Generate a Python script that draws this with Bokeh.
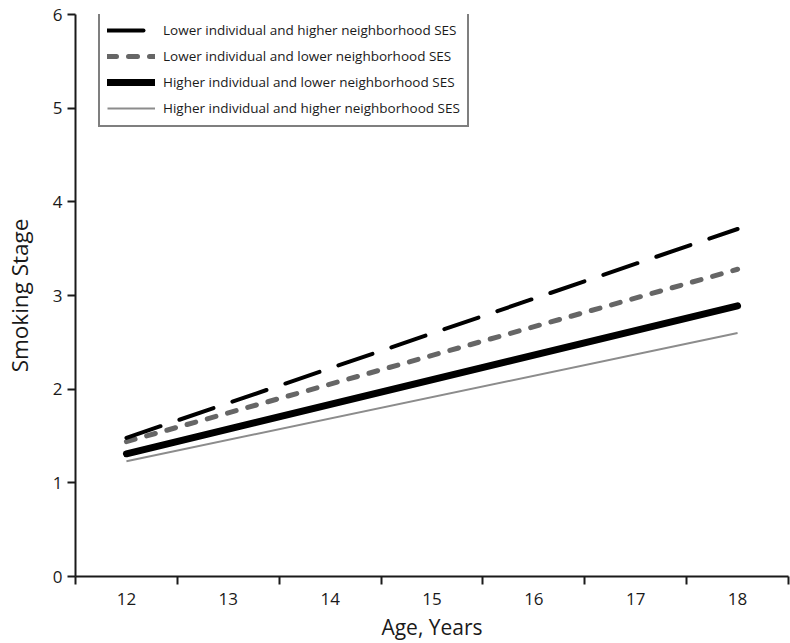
from bokeh.plotting import figure
from bokeh.models import Range1d, FixedTicker, Legend, LegendItem
from bokeh.embed import file_html
from bokeh.resources import INLINE

# Data
ages = [12, 18]
x_ticks = [12, 13, 14, 15, 16, 17, 18]
x_bounds = [11.5, 12.5, 13.5, 14.5, 15.5, 16.5, 17.5, 18.5]
y_ticks = [0, 1, 2, 3, 4, 5, 6]

lower_ind_higher_nbhd = [1.48, 3.71]
lower_ind_lower_nbhd = [1.44, 3.28]
higher_ind_lower_nbhd = [1.31, 2.89]
higher_ind_higher_nbhd = [1.23, 2.60]

labels = [
    "Lower individual and higher neighborhood SES",
    "Lower individual and lower neighborhood SES",
    "Higher individual and lower neighborhood SES",
    "Higher individual and higher neighborhood SES",
]

FONT = "Open Sans"
TXT = "#1a1a1a"

p = figure(width=790, height=643, output_backend="svg", toolbar_location=None,
           x_range=Range1d(11.5, 18.5), y_range=Range1d(0, 6),
           min_border_left=75, min_border_right=2, min_border_top=14, min_border_bottom=67)
p.outline_line_color = None
p.grid.grid_line_color = None
p.background_fill_color = "white"
p.border_fill_color = "white"

# x axis
xa = p.xaxis[0]
xa.ticker = FixedTicker(ticks=x_ticks, minor_ticks=x_bounds)
xa.major_tick_in = 0
xa.major_tick_out = 0
xa.minor_tick_in = 0
xa.minor_tick_out = 8
xa.minor_tick_line_width = 2
xa.minor_tick_line_color = TXT
xa.axis_line_width = 2
xa.axis_line_color = TXT
xa.major_label_text_font = FONT
xa.major_label_text_font_size = "17px"
xa.major_label_text_color = TXT
xa.major_label_standoff = 8
xa.axis_label = "Age, Years"
xa.axis_label_text_font = FONT
xa.axis_label_text_font_size = "21px"
xa.axis_label_text_font_style = "normal"
xa.axis_label_text_color = TXT
xa.axis_label_standoff = 5

# y axis
ya = p.yaxis[0]
ya.ticker = FixedTicker(ticks=y_ticks, minor_ticks=[])
ya.major_tick_in = 0
ya.major_tick_out = 8
ya.major_tick_line_width = 2
ya.major_tick_line_color = TXT
ya.axis_line_width = 2
ya.axis_line_color = TXT
ya.major_label_text_font = FONT
ya.major_label_text_font_size = "17px"
ya.major_label_text_color = TXT
ya.major_label_standoff = 5
ya.axis_label = "Smoking Stage"
ya.axis_label_text_font = FONT
ya.axis_label_text_font_size = "22.5px"
ya.axis_label_text_font_style = "normal"
ya.axis_label_text_color = TXT
ya.axis_label_standoff = 15

r4 = p.line(ages, higher_ind_higher_nbhd, line_color="#8c8c8c", line_width=2)
r3 = p.line(ages, higher_ind_lower_nbhd, line_color="#000000", line_width=7, line_cap="round")
r2 = p.line(ages, lower_ind_lower_nbhd, line_color="#666666", line_width=5, line_cap="round",
            line_dash="9 12")
r1 = p.line(ages, lower_ind_higher_nbhd, line_color="#000000", line_width=4, line_cap="round",
            line_dash="36 20")

legend = Legend(items=[
    LegendItem(label=labels[0], renderers=[r1]),
    LegendItem(label=labels[1], renderers=[r2]),
    LegendItem(label=labels[2], renderers=[r3]),
    LegendItem(label=labels[3], renderers=[r4]),
], location=(23, 449))
legend.label_text_font = FONT
legend.label_text_font_size = "13.5px"
legend.label_text_color = TXT
legend.glyph_width = 48
legend.glyph_height = 20
legend.label_height = 20
legend.spacing = 6
legend.padding = 7
legend.margin = 0
legend.label_standoff = 8
legend.border_line_color = "#000000"
legend.border_line_width = 2
legend.background_fill_color = "white"
legend.background_fill_alpha = 1
p.add_layout(legend, "center")

open("out.html", "w").write(file_html(p, INLINE))
